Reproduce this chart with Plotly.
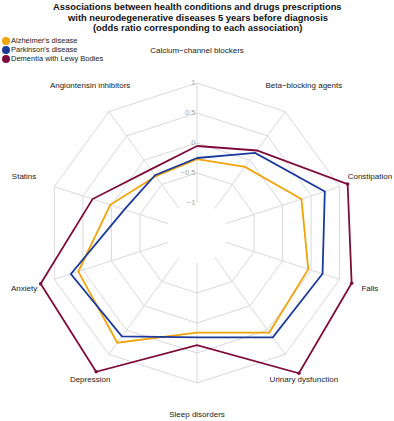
import plotly.graph_objects as go

categories = ["Calcium−channel blockers", "Beta−blocking agents", "Constipation", "Falls",
              "Urinary dysfunction", "Sleep disorders", "Depression", "Anxiety", "Statins",
              "Angiontensin inhibitors"]
alzheimer = [-0.27, -0.14, 0.33, 0.45, 0.55, 0.16, 0.76, 0.58, 0.02, -0.33]
parkinson = [-0.25, 0.15, 0.74, 0.70, 0.65, 0.24, 0.63, 0.71, -0.23, -0.31]
dlb = [-0.05, 0.20, 1.14, 1.21, 1.39, 0.37, 1.36, 1.24, 0.33, -0.19]
series_names = ["Alzheimer's disease", "Parkinson's disease", "Dementia with Lewy Bodies"]
grid_ticks = [-1, -0.5, 0, 0.5, 1]
grid_labels = ["−1", "−0.5", "0", "0.5", "1"]
title_lines = ["Associations between health conditions and drugs prescriptions",
               "with neurodegenerative diseases 5 years before diagnosis",
               "(odds ratio corresponding to each association)"]

colors = ["#F0A30A", "#1B3A9A", "#7D0C3A"]
FONT = "Liberation Sans, Arial, sans-serif"
W, H = 394, 421
cx, cy = 197, 233
R_IN, PX_PER_UNIT = 30, 60          # radius of the -1 ring, pixels per unit
R_MIN, R_MAX = -1, 1.6              # radial range of the polar subplot
R_OUT = R_IN + (R_MAX - R_MIN) * PX_PER_UNIT
GRID = "#d9d9d9"
label_r = 1.53

fig = go.Figure()

# spokes from the -1 ring to the +1 ring
spoke_r, spoke_t = [], []
for c in categories:
    spoke_r += [grid_ticks[0], grid_ticks[-1], None]
    spoke_t += [c, c, c]
fig.add_trace(go.Scatterpolar(r=spoke_r, theta=spoke_t, mode="lines",
                              line=dict(color=GRID, width=1), connectgaps=False,
                              showlegend=False, hoverinfo="skip"))

for name, vals, col in zip(series_names, [alzheimer, parkinson, dlb], colors):
    fig.add_trace(go.Scatterpolar(
        r=vals + [vals[0]], theta=categories + [categories[0]], name=name,
        mode="lines+markers", line=dict(color=col, width=1.8),
        marker=dict(size=3.5, color=col), cliponaxis=False, showlegend=False,
        hoverinfo="skip"))

fig.add_trace(go.Scatterpolar(
    r=[label_r] * len(categories), theta=categories, mode="text", text=categories,
    textposition="middle center", textfont=dict(size=8, color="#222", family=FONT),
    cliponaxis=False, showlegend=False, hoverinfo="skip"))

# manual legend
fig.add_trace(go.Scatter(
    x=[0, 0, 0], y=[0, 1, 2], mode="markers", marker=dict(size=8, color=colors),
    xaxis="x", yaxis="y", showlegend=False, hoverinfo="skip", cliponaxis=False))
fig.add_trace(go.Scatter(
    x=[5, 5, 5], y=[0, 1, 2], mode="text", text=series_names, textposition="middle right",
    textfont=dict(size=7.5, color="#222", family=FONT),
    xaxis="x", yaxis="y", showlegend=False, hoverinfo="skip", cliponaxis=False))

annotations = []
for i, line in enumerate(title_lines):
    annotations.append(dict(
        text="<b>" + line + "</b>", x=0.5, xref="paper", y=1 - (6.5 + 10.5 * i) / H,
        yref="paper", xanchor="center", yanchor="middle", showarrow=False,
        font=dict(size=9.4, color="#111", family=FONT)))

fig.update_layout(
    width=W, height=H, margin=dict(l=0, r=0, t=0, b=0),
    paper_bgcolor="white", plot_bgcolor="rgba(0,0,0,0)",
    font=dict(family=FONT),
    annotations=annotations,
    xaxis=dict(domain=[0, 0.3], range=[-6, 112], visible=False, fixedrange=True),
    yaxis=dict(domain=[1 - 63.5 / H, 1 - 36.5 / H], range=[2.5, -0.5], visible=False,
               fixedrange=True),
    polar=dict(
        domain=dict(x=[(cx - R_OUT) / W, (cx + R_OUT) / W],
                    y=[(H - cy - R_OUT) / H, (H - cy + R_OUT) / H]),
        bgcolor="rgba(0,0,0,0)", hole=R_IN / R_OUT, gridshape="linear",
        radialaxis=dict(range=[R_MIN, R_MAX], tickvals=grid_ticks, ticktext=grid_labels,
                        angle=90, showline=False, side="counterclockwise",
                        gridcolor=GRID, gridwidth=1, ticks="", tickangle=90,
                        showticklabels=True,
                        tickfont=dict(size=7.5, color="#a8a8a8", family=FONT)),
        angularaxis=dict(categoryorder="array", categoryarray=categories,
                         direction="clockwise", rotation=90, showticklabels=False,
                         ticks="", showgrid=False, showline=False),
    ),
)

fig.write_html("out.html", config={"displayModeBar": False},
               post_script="document.body.style.margin='0';")
